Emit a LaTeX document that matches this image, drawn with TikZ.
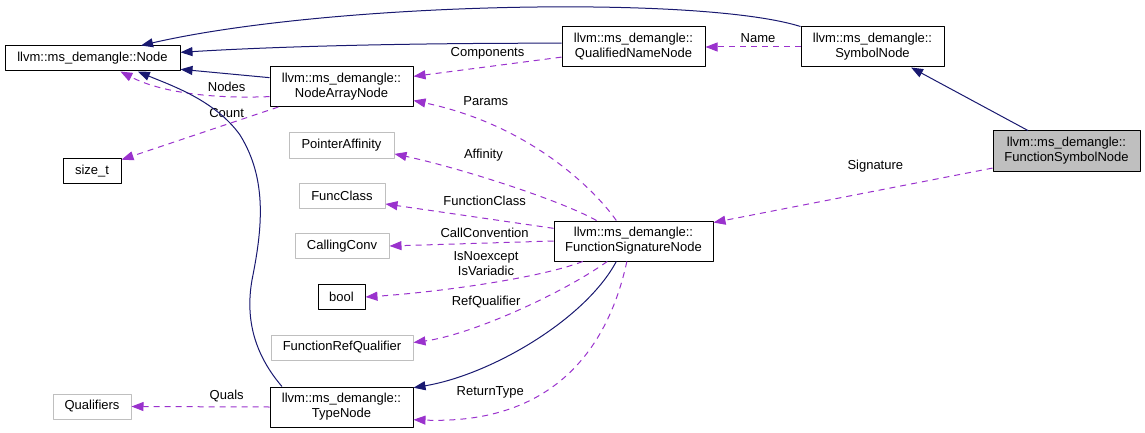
\documentclass[tikz,border=0pt]{standalone}
\usepackage{fontspec}
\setmainfont{Liberation Sans}
\usetikzlibrary{arrows.meta}
\definecolor{inhblue}{HTML}{191970}
\definecolor{usepurple}{HTML}{9A32CD}
\definecolor{extgray}{HTML}{BFBFBF}
\tikzset{
	cls/.style={draw=black, line width=1pt, align=center, inner sep=2pt, minimum height=25pt},
	cls2/.style={cls, minimum height=40pt},
	ext/.style={cls, draw=extgray},
	inherit/.style={draw=inhblue, line width=1pt, -{Triangle[length=12pt, width=9pt]}},
	member/.style={draw=usepurple, line width=1pt, dash pattern=on 6pt off 5pt, -{Triangle[length=12pt, width=9pt]}},
	lbl/.style={inner sep=1pt, text=black}
}
\begin{document}
\begin{tikzpicture}[x=1pt, y=-1pt, line join=round, font=\fontsize{13}{15}\selectfont]
			\useasboundingbox (0,0) rectangle (1145,433);
			% classes
			\node[cls, minimum width=175pt] (node) at (92.5,58.5) {llvm::ms\_demangle::Node};
			\node[cls2, minimum width=143pt] (arr) at (341.5,86.5) {llvm::ms\_demangle::\\NodeArrayNode};
			\node[cls, minimum width=58pt] (sizet) at (92,171) {size\_t};
			\node[ext, minimum width=105pt] (aff) at (341.5,145.5) {PointerAffinity};
			\node[ext, minimum width=86pt] (fcls) at (342,195.5) {FuncClass};
			\node[ext, minimum width=94pt] (conv) at (342,246) {CallingConv};
			\node[cls, minimum width=47pt] (bool) at (341.5,297) {bool};
			\node[ext, minimum width=142pt] (refq) at (342,347.5) {FunctionRefQualifier};
			\node[ext, minimum width=78pt] (quals) at (92,406.5) {Qualifiers};
			\node[cls2, minimum width=143pt] (type) at (341.5,407) {llvm::ms\_demangle::\\TypeNode};
			\node[cls2, minimum width=143pt] (qname) at (633.5,47) {llvm::ms\_demangle::\\QualifiedNameNode};
			\node[cls2, minimum width=143pt] (sym) at (872.5,47) {llvm::ms\_demangle::\\SymbolNode};
			\node[cls2, fill=extgray, minimum width=147pt] (fsym) at (1066.5,151) {llvm::ms\_demangle::\\FunctionSymbolNode};
			\node[cls2, minimum width=159pt] (fsig) at (633.5,241) {llvm::ms\_demangle::\\FunctionSignatureNode};
			% members
			\draw[member] (qname.188) -- (arr.8) node[lbl, midway, above=6pt] {Components};
			\draw[member] (sym.west) -- (qname.east) node[lbl, midway, above=3pt, xshift=5pt] {Name};
			\draw[member] (arr.188) .. controls (210,99) and (160,92) .. (node.-25) node[lbl, pos=.25, above=3pt] {Nodes};
			\draw[member] (arr.198) -- (sizet.21) node[lbl, pos=.33, above=5pt] {Count};
			\draw[member] (fsig.130) .. controls (595,190) and (530,125) .. (arr.-11) node[lbl, pos=.77, above=16pt] {Params};
			\draw[member] (fsig.151) .. controls (560,200) and (460,168) .. (aff.-9) node[lbl, pos=.6, above=15pt] {Affinity};
			\draw[member] (fsig.171) -- (fcls.-11) node[lbl, pos=.41, above=11pt] {FunctionClass};
			\draw[member] (fsig.west) -- (conv.east) node[lbl, pos=.42, above=4pt] {CallConvention};
			\draw[member] (fsig.202) .. controls (540,278) and (440,292) .. (bool.east) node[lbl, pos=.5, above=6pt, align=center] {IsNoexcept\\IsVariadic};
			\draw[member] (fsig.218) .. controls (560,295) and (470,335) .. (refq.4) node[lbl, pos=.63, above=13pt] {RefQualifier};
			\draw[member] (fsig.252) .. controls (610,340) and (560,425) .. (type.-10) node[lbl, pos=.8, above=13pt] {ReturnType};
			\draw[member] (fsym.193) -- (fsig.13) node[lbl, pos=.42, above=17pt] {Signature};
			\draw[member] (type.west) -- (quals.east) node[lbl, pos=.31, above=3pt] {Quals};
			% inheritance
			\draw[inherit] (sym.north west) .. controls (700,-5) and (330,2) .. (node.15);
			\draw[inherit] (qname.177) .. controls (450,43) and (300,45) .. (node.4);
			\draw[inherit] (arr.173) -- (node.-7);
			\draw[inherit] (type.161) .. controls (255,355) and (245,320) .. (252,280) .. controls (262,230) and (268,180) .. (240,135) .. controls (215,100) and (170,85) .. (node.-16);
			\draw[inherit] (fsig.-130) .. controls (585,320) and (490,375) .. (type.15);
			\draw[inherit] (fsym.152) -- (sym.-28);
		\end{tikzpicture}
\end{document}
